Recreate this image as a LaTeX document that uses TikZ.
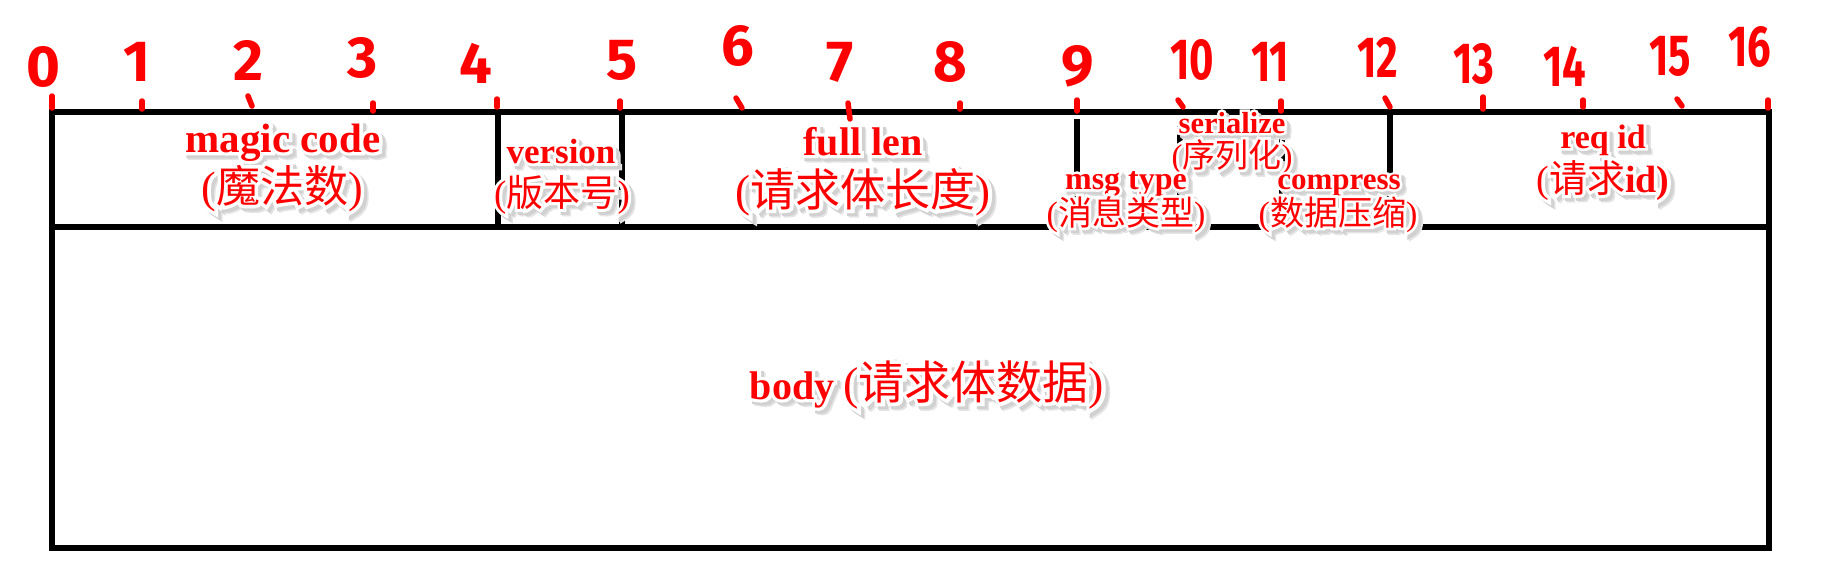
\documentclass[tikz,border=0pt]{standalone}
\usepackage{fontspec}
\usepackage{graphicx}
\setmainfont{Liberation Serif}
\newfontfamily\cjk{Noto Sans CJK SC}
\newfontfamily\latH[FakeBold=16,BoldFeatures={FakeBold=16}]{Liberation Serif}
\newfontfamily\cjkH[FakeBold=16]{Noto Sans CJK SC}
\newfontfamily\hand{Fira Sans}
\definecolor{lblred}{RGB}{255,0,0}

\newif\ifhl
\newcommand\lf{\ifhl\latH\else\rmfamily\fi}
\newcommand\cj{\ifhl\cjkH\else\cjk\fi}
\newbox\hbxA
\newbox\hbxB
\newcommand\halo[1]{%
 \setbox\hbxA=\hbox{\hlfalse #1}%
 \setbox\hbxB=\hbox{\hltrue #1}%
 \rlap{\kern4.5pt\raise-4.5pt\hbox{\color{black!10}\copy\hbxB}}%
 \rlap{\kern3pt\raise-3pt\hbox{\color{black!18}\copy\hbxB}}%
 \rlap{\hbox{\color{white}\copy\hbxB}}%
 \copy\hbxA}
\newcommand\lat[2]{{\fontsize{#1}{#1}\selectfont\lf\bfseries #2}}
\newcommand\zh[2]{{\fontsize{#1}{#1}\selectfont\lf({\cj #2})}}

\begin{document}
\begin{tikzpicture}[x=1pt,y=-1pt,
  frame/.style={line width=5.5pt, black},
  tickmark/.style={lblred, line width=5.5pt, line cap=round},
  lbl/.style={text=lblred, inner sep=0pt, anchor=base},
  num/.style={text=lblred, inner sep=0pt, anchor=center, font=\hand\bfseries\fontsize{58}{58}\selectfont},
  two/.style={num}]
\useasboundingbox (0,0) rectangle (1848,581);
\fill[white] (0,0) rectangle (1848,581);

% frame
\draw[frame] (52,112) rectangle (1769,548);
\draw[frame] (52,227) -- (1769,227);
\draw[frame] (498,112) -- (498,227);
\draw[frame] (622,112) -- (622,227);
\draw[frame] (1077,119) -- (1077,227);
\draw[frame] (1180,126) -- (1180,227);
\draw[frame] (1282,126) -- (1282,227);
\draw[frame] (1390,112) -- (1390,227);

% red tick marks
\draw[tickmark] (52,96) -- (52,108);
\draw[tickmark] (142,101) -- (142,109);
\draw[tickmark] (248,96) -- (252,106);
\draw[tickmark] (373,103) -- (373,111);
\draw[tickmark] (497,99) -- (497,107);
\draw[tickmark] (620,101) -- (620,108);
\draw[tickmark] (736,98) -- (742,108);
\draw[tickmark] (848,103) -- (850,119);
\draw[tickmark] (960,103) -- (960,109);
\draw[tickmark] (1077,100) -- (1077,111);
\draw[tickmark] (1178,100) -- (1183,107);
\draw[tickmark] (1281,101) -- (1281,111);
\draw[tickmark] (1385,98) -- (1390,107);
\draw[tickmark] (1483,97) -- (1483,109);
\draw[tickmark] (1583,100) -- (1583,107);
\draw[tickmark] (1677,99) -- (1682,106);
\draw[tickmark] (1768,100) -- (1768,108);

% byte numbers
\node[num] (n0) at (43,67) {0};
\node[num] (n1) at (137,62) {1};
\node[num] (n2) at (248,60) {2};
\node[num] (n3) at (363,58) {3};
\node[num] (n4) at (476,63) {4};
\node[num] (n5) at (622,60) {5};
\node[num] (n6) at (738,46) {6};
\node[num] (n7) at (840,62) {7};
\node[num] (n8) at (950,62) {8};
\node[num] (n9) at (1078,66) {9};
\node[two] (n10) at (1192,60) {\scalebox{0.72}[1]{10}};
\node[two] (n11) at (1270,62) {\scalebox{0.72}[1]{11}};
\node[two] (n12) at (1378,57) {\scalebox{0.72}[1]{12}};
\node[two] (n13) at (1474,64) {\scalebox{0.72}[1]{13}};
\node[two] (n14) at (1565,66) {\scalebox{0.72}[1]{14}};
\node[two] (n15) at (1670,56) {\scalebox{0.72}[1]{15}};
\node[two] (n16) at (1750,47) {\scalebox{0.72}[1]{16}};

% field labels
\node[lbl] (mc1) at (283,152) {\halo{\lat{41}{magic code}}};
\node[lbl] (mc2) at (282,202) {\halo{\zh{44}{魔法数}}};
\node[lbl] (ve1) at (561,163) {\halo{\lat{35}{version}}};
\node[lbl] (ve2) at (562,206) {\halo{\zh{37}{版本号}}};
\node[lbl] (fl1) at (863,155) {\halo{\lat{40}{full len}}};
\node[lbl] (fl2) at (863,206) {\halo{\zh{45}{请求体长度}}};
\node[lbl] (se1) at (1232,133) {\halo{\lat{30.5}{serialize}}};
\node[lbl] (se2) at (1232,167) {\halo{\zh{33}{序列化}}};
\node[lbl] (st1) at (1126,189) {\halo{\lat{32}{msg type}}};
\node[lbl] (st2) at (1126,225) {\halo{\zh{34}{消息类型}}};
\node[lbl] (co1) at (1339,189) {\halo{\lat{31}{compress}}};
\node[lbl] (co2) at (1338,225) {\halo{\zh{34}{数据压缩}}};
\node[lbl] (ri1) at (1603,148) {\halo{\lat{34}{req id}}};
\node[lbl] (ri2) at (1603,192) {\halo{{\fontsize{38}{38}\selectfont\lf({\cj 请求}\bfseries id)}}};
\node[lbl] (bd) at (927,399) {\halo{\lat{40}{body}\kern9pt\zh{46}{请求体数据}}};
\end{tikzpicture}
\end{document}
